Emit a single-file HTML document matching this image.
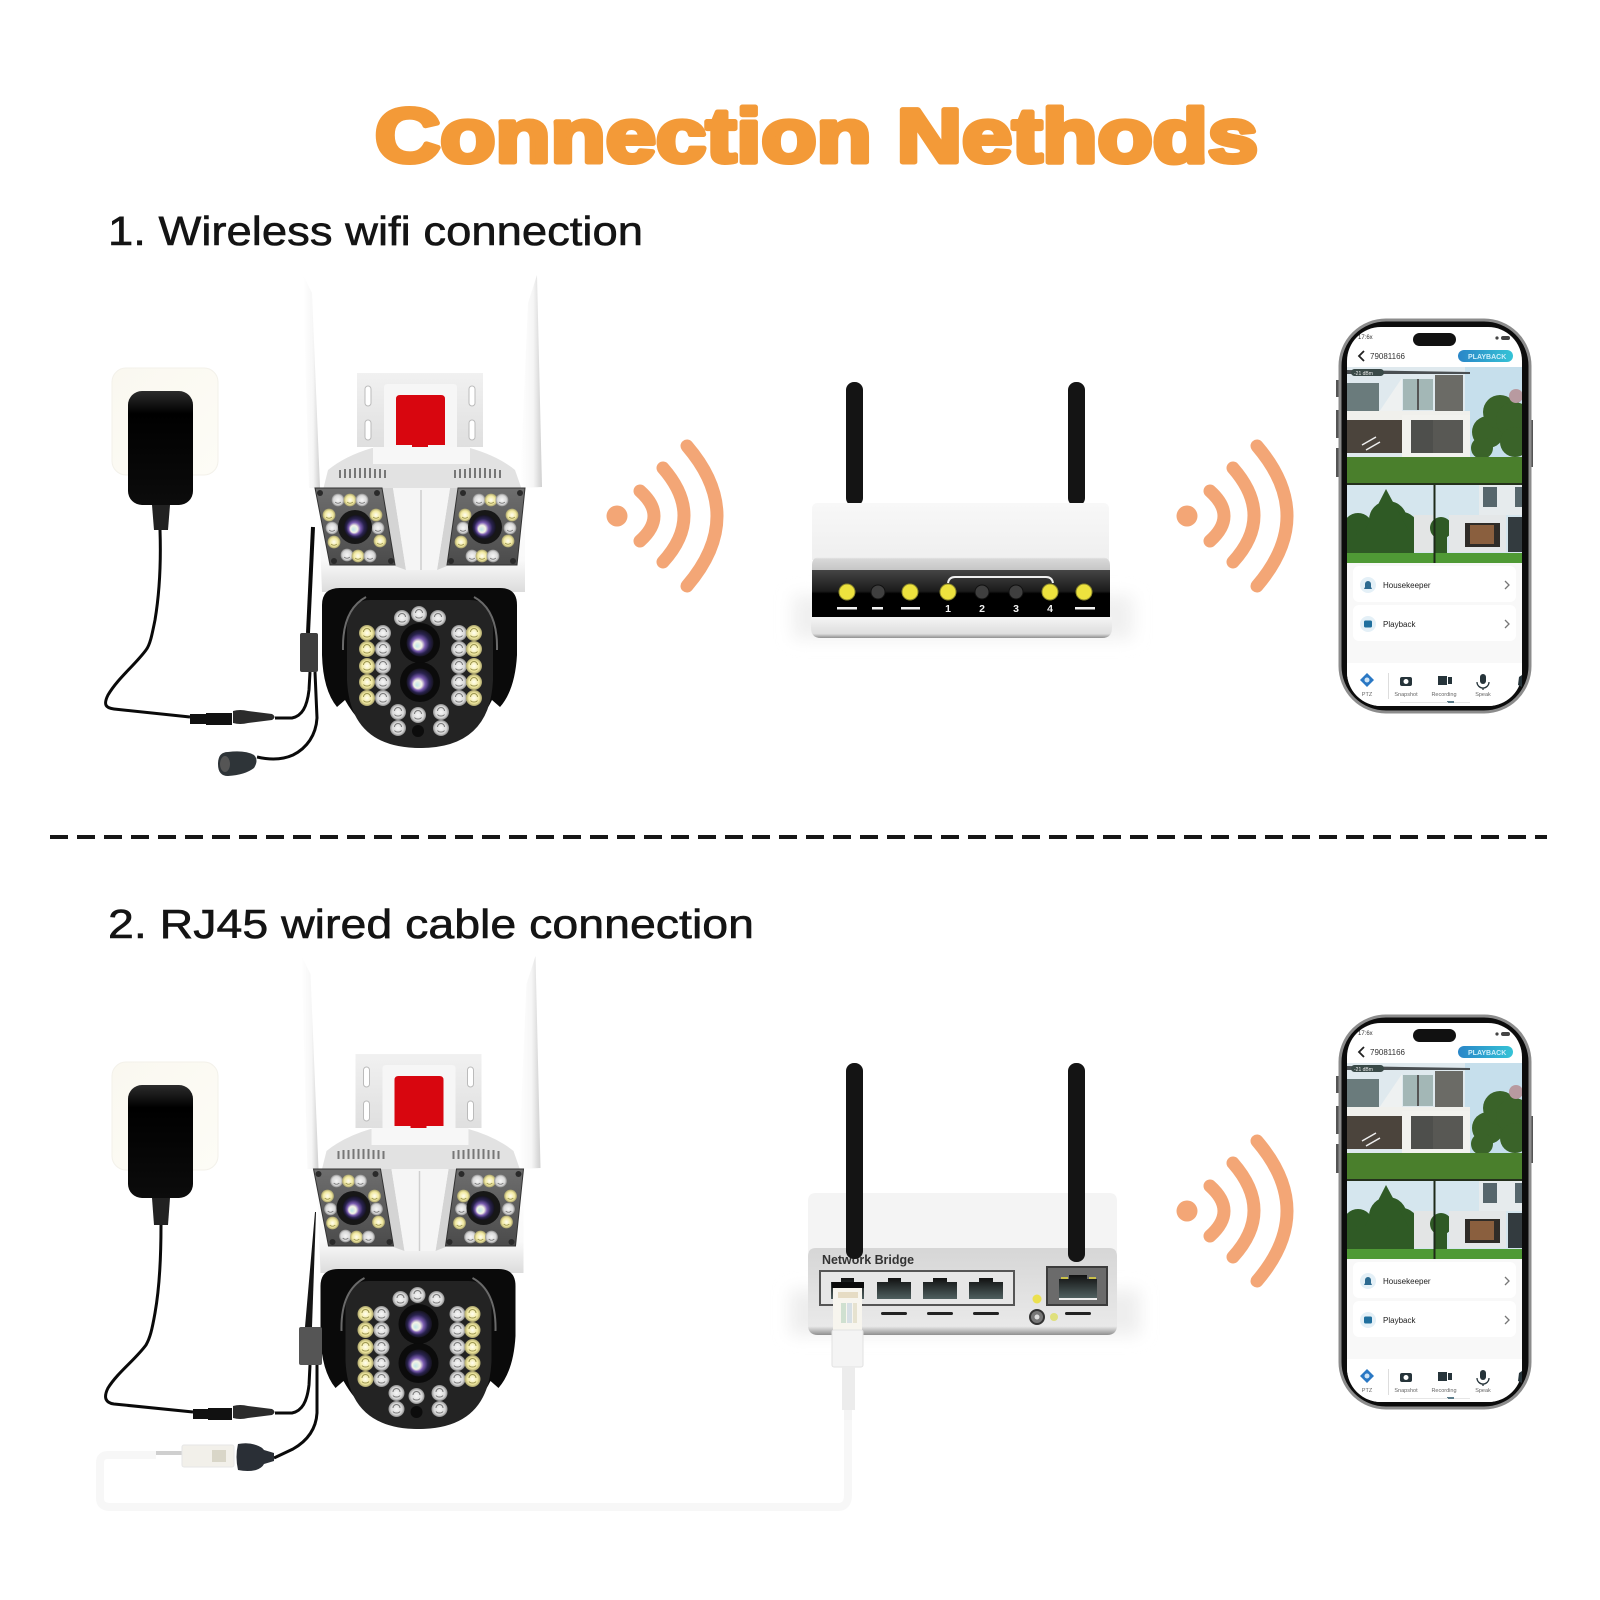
<!DOCTYPE html>
<html lang="en"><head><meta charset="utf-8"><title>Connection Nethods</title>
<style>html,body{margin:0;padding:0;background:#fff}svg{display:block}text{font-family:"Liberation Sans",sans-serif}</style></head>
<body>
<svg xmlns="http://www.w3.org/2000/svg" width="1600" height="1600" viewBox="0 0 1600 1600">
<defs>
<radialGradient id="lw"><stop offset="0" stop-color="#f6f6f6"/><stop offset=".7" stop-color="#d8d8d8"/><stop offset="1" stop-color="#8d8d8d"/></radialGradient>
<radialGradient id="ly"><stop offset="0" stop-color="#fffdf0"/><stop offset=".65" stop-color="#f1e9a0"/><stop offset="1" stop-color="#a8a16a"/></radialGradient>
<radialGradient id="lens" cx=".5" cy=".5" fx=".38" fy=".62"><stop offset="0" stop-color="#bfe6ea"/><stop offset=".3" stop-color="#f4f4e6"/><stop offset=".5" stop-color="#7a5cb0"/><stop offset=".75" stop-color="#2a2350"/><stop offset="1" stop-color="#15131f"/></radialGradient>
<linearGradient id="rb" x1="0" y1="0" x2="0" y2="1"><stop offset="0" stop-color="#f8f8f8"/><stop offset="1" stop-color="#efefef"/></linearGradient>
<linearGradient id="rg" x1="0" y1="0" x2="0" y2="1"><stop offset="0" stop-color="#f4f4f4"/><stop offset=".15" stop-color="#d8d8d8"/><stop offset="1" stop-color="#c6c6c6"/></linearGradient>
<linearGradient id="rk" x1="0" y1="0" x2="0" y2="1"><stop offset="0" stop-color="#454545"/><stop offset=".45" stop-color="#1b1b1b"/><stop offset=".5" stop-color="#000"/><stop offset="1" stop-color="#000"/></linearGradient>
<linearGradient id="rf" x1="0" y1="0" x2="0" y2="1"><stop offset="0" stop-color="#f5f5f5"/><stop offset=".8" stop-color="#dedede"/><stop offset="1" stop-color="#8f8f8f"/></linearGradient>
<linearGradient id="port" x1="0" y1="0" x2="0" y2="1"><stop offset="0" stop-color="#111"/><stop offset="1" stop-color="#506060"/></linearGradient>
<linearGradient id="front" x1="0" y1="0" x2="0" y2="1"><stop offset="0" stop-color="#d6d6d6"/><stop offset=".9" stop-color="#e9e9e9"/><stop offset="1" stop-color="#8f8f8f"/></linearGradient>
<linearGradient id="pill" x1="0" y1="0" x2="1" y2="0"><stop offset="0" stop-color="#2a86c8"/><stop offset="1" stop-color="#35c3d6"/></linearGradient>
<linearGradient id="adp" x1="0" y1="0" x2="0" y2="1"><stop offset="0" stop-color="#2c2c2c"/><stop offset=".2" stop-color="#000"/><stop offset="1" stop-color="#0c0c0c"/></linearGradient>
<linearGradient id="plate" x1="0" y1="0" x2="1" y2="1"><stop offset="0" stop-color="#faf8f0"/><stop offset="1" stop-color="#fdfcf6"/></linearGradient>
<linearGradient id="pan" x1="0" y1="0" x2="0" y2="1"><stop offset="0" stop-color="#6e6e6e"/><stop offset="1" stop-color="#4b4b4b"/></linearGradient>
<linearGradient id="ant" x1="0" y1="0" x2="1" y2="0"><stop offset="0" stop-color="#fff"/><stop offset=".6" stop-color="#f6f6f6"/><stop offset="1" stop-color="#cfcfcf"/></linearGradient>
<linearGradient id="body" x1="0" y1="0" x2="0" y2="1"><stop offset="0" stop-color="#fff"/><stop offset=".7" stop-color="#f9f9f9"/><stop offset="1" stop-color="#dcdcdc"/></linearGradient>
<linearGradient id="brk" x1="0" y1="0" x2="0" y2="1"><stop offset="0" stop-color="#f1f1f1"/><stop offset="1" stop-color="#dfdfdf"/></linearGradient>
<filter id="b6" x="-20%" y="-50%" width="140%" height="200%"><feGaussianBlur stdDeviation="8"/></filter>
<filter id="b1"><feGaussianBlur stdDeviation=".6"/></filter>
<clipPath id="scr"><rect x="1347" y="327" width="175" height="379" rx="34"/></clipPath>

<g id="lw1"><circle r="8" fill="url(#lw)"/><path d="M-3.500,-1 a2,2 0 0 1 7,0 M-3.500,2.500 a4,3 0 0 0 7,0" fill="none" stroke="#777" stroke-width="1"/></g>
<g id="ly1"><circle r="8" fill="url(#ly)"/><path d="M-3.500,-1 a2,2 0 0 1 7,0 M-3.500,2.500 a4,3 0 0 0 7,0" fill="none" stroke="#9a9450" stroke-width="1"/></g>
<g id="ls1" transform="scale(.8)"><circle r="8" fill="url(#lw)"/><path d="M-3.500,2.500 a4,3 0 0 0 7,0" fill="none" stroke="#777"/></g>
<g id="ly2" transform="scale(.8)"><circle r="8" fill="url(#ly)"/><path d="M-3.500,2.500 a4,3 0 0 0 7,0" fill="none" stroke="#9a9450"/></g>

<g id="wifi" fill="none" stroke="#f3a676" stroke-width="13" stroke-linecap="round">
<circle cx="617" cy="516" r="10.500" fill="#f3a676" stroke="none"/>
<path d="M640,491 Q668,516 640,541"/>
<path d="M663,468 Q705,516 663,562"/>
<path d="M687,446 Q747,516 687,586"/>
</g>

<g id="cam">
<path d="M303,275 L312,293 L320,488 L309,488 Z" fill="url(#ant)"/>
<path d="M537,275 L542,487 L520,488 L528,303 Z" fill="url(#ant)"/>
<path d="M357,373 H483 V447 H357 Z" fill="url(#brk)"/>
<path d="M384,387 Q384,384 388,384 H453 Q457,384 457,387 V447 H384 Z" fill="#f6f6f6"/>
<rect x="365" y="386" width="6" height="20" rx="3" fill="#fff" stroke="#bbb"/><rect x="365" y="420" width="6" height="20" rx="3" fill="#fff" stroke="#bbb"/>
<rect x="469" y="386" width="6" height="20" rx="3" fill="#fff" stroke="#bbb"/><rect x="469" y="420" width="6" height="20" rx="3" fill="#fff" stroke="#bbb"/>
<path d="M396,399 Q396,395 400,395 H441 Q445,395 445,399 V445 H428 V452 H412 V445 H396 Z" fill="#d8060f"/>
<path d="M323,490 L328,470 Q345,456 372,448 H470 Q498,456 515,470 L522,490 Z" fill="#e2e2e2"/>
<rect x="373" y="447" width="97" height="17" fill="#f7f7f7"/>
<path d="M340,478 v-8 M345,478 v-9 M350,478 v-9 M355,478 v-10 M360,478 v-10 M365,478 v-10 M370,478 v-10 M375,478 v-9 M380,478 v-9 M385,478 v-8 M455,478 v-8 M460,478 v-9 M465,478 v-9 M470,478 v-10 M475,478 v-10 M480,478 v-10 M485,478 v-10 M490,478 v-9 M495,478 v-9 M500,478 v-8" stroke="#777" stroke-width="2"/>
<path d="M318,488 H525 V592 H322 Z" fill="url(#body)"/>
<polygon points="382,488 393,488 406,570 395,566" fill="#d4d4d4"/>
<polygon points="458,488 450,488 437,570 447,566" fill="#d4d4d4"/>
<polygon points="393,488 450,488 437,570 406,570" fill="#f5f5f5"/>
<path d="M421,490 V570" stroke="#cfcfcf" stroke-width="1.500"/>
<polygon points="315,488 382,488 395,565 330,565" fill="url(#pan)" stroke="#333"/>
<polygon points="458,488 525,488 517,565 447,565" fill="url(#pan)" stroke="#333"/>
<g fill="#2a2a2a"><circle cx="320" cy="493" r="3"/><circle cx="377" cy="493" r="3"/><circle cx="334" cy="561" r="3"/><circle cx="391" cy="561" r="3"/><circle cx="463" cy="493" r="3"/><circle cx="520" cy="493" r="3"/><circle cx="451" cy="561" r="3"/><circle cx="513" cy="561" r="3"/></g>
<use href="#ls1" x="338" y="500"/><use href="#ly2" x="350" y="500"/><use href="#ls1" x="362" y="500"/><use href="#ly2" x="329" y="515"/><use href="#ls1" x="332" y="528"/><use href="#ly2" x="334" y="542"/><use href="#ls1" x="347" y="555"/><use href="#ly2" x="358" y="556"/><use href="#ls1" x="370" y="556"/><use href="#ly2" x="376" y="515"/><use href="#ls1" x="378" y="528"/><use href="#ly2" x="380" y="541"/>
<use href="#ls1" x="479" y="500"/><use href="#ly2" x="491" y="500"/><use href="#ls1" x="502" y="500"/><use href="#ly2" x="465" y="515"/><use href="#ls1" x="463" y="528"/><use href="#ly2" x="461" y="542"/><use href="#ls1" x="472" y="556"/><use href="#ly2" x="482" y="556"/><use href="#ls1" x="493" y="556"/><use href="#ly2" x="512" y="515"/><use href="#ls1" x="510" y="528"/><use href="#ly2" x="508" y="541"/>
<circle cx="355" cy="527" r="17" fill="#171717"/><circle cx="356" cy="527" r="12" fill="url(#lens)"/>
<circle cx="485" cy="527" r="17" fill="#171717"/><circle cx="484" cy="527" r="12" fill="url(#lens)"/>
<path d="M322,605 Q322,588 340,588 H500 Q517,588 517,605 V655 Q515,690 500,707 L492,700 Q470,745 420,748 Q370,745 345,700 L337,707 Q323,690 322,655 Z" fill="#0a0a0a"/>
<path d="M347,625 Q350,600 370,600 H470 Q490,600 493,625 V680 Q490,748 420,748 Q350,748 347,680 Z" fill="#232323"/>
<path d="M343,650 Q342,610 366,597 M497,650 Q498,610 474,597" fill="none" stroke="#6a6a6a" stroke-width="2"/>
<use href="#lw1" x="402" y="618"/><use href="#lw1" x="419" y="614"/><use href="#lw1" x="438" y="618"/>
<use href="#ly1" x="367" y="633"/><use href="#ly1" x="367" y="649"/><use href="#ly1" x="367" y="666"/><use href="#ly1" x="367" y="682"/><use href="#ly1" x="367" y="698"/>
<use href="#lw1" x="383" y="633"/><use href="#lw1" x="383" y="649"/><use href="#lw1" x="383" y="666"/><use href="#lw1" x="383" y="682"/><use href="#lw1" x="383" y="698"/>
<use href="#lw1" x="459" y="633"/><use href="#lw1" x="459" y="649"/><use href="#lw1" x="459" y="666"/><use href="#lw1" x="459" y="682"/><use href="#lw1" x="459" y="698"/>
<use href="#ly1" x="474" y="633"/><use href="#ly1" x="474" y="649"/><use href="#ly1" x="474" y="666"/><use href="#ly1" x="474" y="682"/><use href="#ly1" x="474" y="698"/>
<use href="#lw1" x="398" y="712"/><use href="#lw1" x="418" y="715"/><use href="#lw1" x="441" y="712"/><use href="#lw1" x="398" y="728"/><use href="#lw1" x="441" y="728"/>
<circle cx="418" cy="731" r="6" fill="#0c0c0c"/>
<ellipse cx="420" cy="643" rx="20" ry="20" fill="#0b0b0b"/><circle cx="420" cy="643" r="13.500" fill="url(#lens)"/>
<ellipse cx="420" cy="682" rx="20" ry="20" fill="#0b0b0b"/><circle cx="420" cy="682" r="13.500" fill="url(#lens)"/>
</g>

<g id="phone">
<rect x="1336" y="380" width="4" height="17" fill="#555"/><rect x="1336" y="410" width="4" height="28" fill="#555"/><rect x="1336" y="448" width="4" height="29" fill="#555"/><rect x="1530" y="420" width="3" height="47" fill="#555"/>
<rect x="1340" y="320" width="190" height="392" rx="46" fill="#0c0c0c" stroke="#8c8c8c" stroke-width="3"/>
<rect x="1347" y="327" width="175" height="379" rx="34" fill="#fff"/>
<g clip-path="url(#scr)">
<rect x="1347" y="367" width="175" height="116" fill="#dfe9ee"/>
<rect x="1465" y="367" width="57" height="90" fill="#c6dfec"/>
<path d="M1347,370 L1470,372 L1470,374 H1347Z" fill="#4a4f52"/>
<polygon points="1379,412 1402,378 1402,412" fill="#eef1f1"/>
<rect x="1347" y="383" width="32" height="29" fill="#6a7b7c"/>
<rect x="1403" y="379" width="30" height="31" fill="#a3b7b6"/><rect x="1417" y="379" width="2" height="31" fill="#555"/>
<rect x="1435" y="375" width="28" height="36" fill="#6b6b66"/>
<rect x="1347" y="411" width="123" height="9" fill="#f0f0ec"/>
<rect x="1347" y="420" width="55" height="33" fill="#4b443c"/>
<rect x="1402" y="415" width="68" height="42" fill="#f2f2ee"/>
<rect x="1411" y="420" width="22" height="33" fill="#4e4f4c"/><rect x="1433" y="420" width="30" height="33" fill="#585854"/>
<path d="M1362,445 l14,-8 M1366,450 l14,-8" stroke="#eee" stroke-width="1.500"/>
<g fill="#3a6329"><circle cx="1488" cy="432" r="16"/><circle cx="1500" cy="412" r="17"/><circle cx="1514" cy="420" r="18"/><circle cx="1515" cy="442" r="15"/><circle cx="1482" cy="448" r="11"/></g>
<circle cx="1516" cy="396" r="7" fill="#b89aa0"/>
<rect x="1347" y="457" width="175" height="26" fill="#4a7f2c"/>
<rect x="1347" y="483" width="175" height="2" fill="#24301c"/>
<rect x="1347" y="485" width="175" height="78" fill="#d5e6ee"/>
<g fill="#2f5a25"><circle cx="1388" cy="520" r="19"/><circle cx="1402" cy="528" r="16"/><circle cx="1358" cy="528" r="15"/><circle cx="1372" cy="535" r="16"/><path d="M1386,489 L1408,530 H1365Z"/><rect x="1347" y="535" width="67" height="18"/></g>
<rect x="1414" y="515" width="19" height="37" fill="#e3e5e5"/>
<g fill="#2f5a25"><circle cx="1441" cy="528" r="11"/><rect x="1435" y="528" width="12" height="25"/></g>
<rect x="1449" y="515" width="57" height="37" fill="#e4e7e8"/>
<rect x="1465" y="523" width="35" height="24" fill="#2f2c28"/><rect x="1470" y="525" width="24" height="19" fill="#8a5f3e"/>
<rect x="1479" y="485" width="43" height="30" fill="#e6ebed"/><rect x="1483" y="487" width="14" height="20" fill="#56666c"/><rect x="1515" y="487" width="7" height="20" fill="#56666c"/>
<rect x="1508" y="517" width="14" height="35" fill="#333b3f"/>
<rect x="1347" y="553" width="175" height="10" fill="#4f9a35"/>
<rect x="1433.500" y="485" width="2" height="78" fill="#1e2a18"/>
<rect x="1347" y="563" width="175" height="100" fill="#f8f8f8"/>
<rect x="1353" y="566" width="163" height="36" rx="6" fill="#fff"/>
<rect x="1353" y="605" width="163" height="36" rx="6" fill="#fff"/>
<rect x="1347" y="663" width="175" height="43" fill="#fff"/>
</g>
<path d="M1364,351 L1359,356 L1364,361" fill="none" stroke="#222" stroke-width="1.800"/>
<rect x="1413" y="333" width="43" height="13" rx="6.500" fill="#111"/>
<circle cx="1497" cy="338" r="1.600" fill="#444"/><rect x="1501" y="336" width="9" height="4" rx="2" fill="#444"/>
<rect x="1458" y="350" width="55" height="12" rx="6" fill="url(#pill)"/>
<rect x="1351" y="369" width="33" height="7" rx="3.500" fill="#3a4a48"/>
<circle cx="1368" cy="585" r="8" fill="#e4f0f7"/><path d="M1364,589 h8 l-1,-2 v-3 a3,3 0 0 0 -6,0 v3z" fill="#2c6a90"/>
<circle cx="1368" cy="624" r="8" fill="#e4f0f7"/><rect x="1364" y="620.500" width="8" height="7" rx="1.500" fill="#1f6f9e"/>
<path d="M1505,581 L1509,585 L1505,589 M1505,620 L1509,624 L1505,628" fill="none" stroke="#777" stroke-width="1.300"/>
<path d="M1367,673 L1374,680 L1367,687 L1360,680 Z" fill="#2a78c4"/><circle cx="1367" cy="680" r="2.500" fill="#cfe4f5"/>
<rect x="1388" y="673" width="1" height="26" fill="#ddd"/>
<rect x="1400" y="677" width="12" height="9" rx="2" fill="#26343a"/><circle cx="1406" cy="681.500" r="2.500" fill="#fff"/>
<rect x="1438" y="676" width="9" height="9" fill="#26343a"/><rect x="1448" y="677" width="4" height="7" fill="#26343a"/>
<rect x="1480" y="674" width="6" height="10" rx="3" fill="#26343a"/><path d="M1477,682 a6,6 0 0 0 12,0 M1483,688 v2" fill="none" stroke="#26343a" stroke-width="1.300"/>
<path d="M1519,677 l3,-2 v12 l-4,-2z" fill="#26343a"/>
<rect x="1447" y="701" width="7" height="2" fill="#5c7c8a"/><rect x="1400" y="702" width="48" height="1" fill="#e6e6e6"/><rect x="1454" y="702" width="16" height="1" fill="#e6e6e6"/>
</g>
</defs>

<rect width="1600" height="1600" fill="#fff"/>

<text x="375" y="162" font-size="76" font-weight="700" fill="#f39a38" stroke="#f39a38" stroke-width="5" stroke-linejoin="round" textLength="883" lengthAdjust="spacingAndGlyphs">Connection Nethods</text>
<text x="108" y="245" font-size="41" fill="#141414" stroke="#141414" stroke-width=".6" textLength="535" lengthAdjust="spacingAndGlyphs">1. Wireless wifi connection</text>
<text x="108" y="938" font-size="41" fill="#141414" stroke="#141414" stroke-width=".6" textLength="646" lengthAdjust="spacingAndGlyphs">2. RJ45 wired cable connection</text>
<line x1="50" y1="837" x2="1547" y2="837" stroke="#161616" stroke-width="4" stroke-dasharray="18 9"/>

<!-- row 1 power -->
<rect x="112" y="368" width="106" height="107" rx="14" fill="url(#plate)" stroke="#f3f1ea"/>
<rect x="128" y="391" width="65" height="114" rx="14" fill="url(#adp)"/>
<path d="M152,505 H170 L168,530 H154 Z" fill="#222"/>
<use href="#cam"/>
<g fill="none" stroke="#0a0a0a" stroke-width="3" stroke-linejoin="round">
<path d="M160,530 C161,560 160,590 155,620 C152,635 150,645 146,650 C135,665 118,678 108,695 C103,705 106,708 114,709 L190,717"/>
<path d="M275,718 H292 C302,716 307,707 309,690 L310,672"/>
<path d="M313,527 L308,633" stroke-width="4"/>
<path d="M315,672 L317,718 C316,735 307,748 293,755 C282,760 270,760 257,757"/>
</g>
<path d="M190,714 H206 V713 H232 V725 H206 V724 H190Z" fill="#111"/><path d="M233,711 Q240,709 248,711 L272,714 Q277,717 272,720 L248,723 Q240,725 233,723 Z" fill="#2b2b2b"/>
<rect x="300" y="633" width="18" height="39" rx="2" fill="#3e3e3e"/>
<path d="M228,752 Q245,750 254,755 Q259,760 254,768 Q245,775 228,776 Q218,776 218,764 Q218,752 228,752Z" fill="#2e3438"/><ellipse cx="225" cy="764" rx="5" ry="8" fill="#555"/>

<use href="#wifi"/>
<use href="#wifi" transform="translate(570,0)"/>

<!-- router 1 -->
<rect x="793" y="595" width="340" height="44" fill="#f0f0f0" filter="url(#b6)"/>
<rect x="846" y="382" width="17" height="124" rx="8" fill="#141414"/>
<rect x="1068" y="382" width="17" height="124" rx="8" fill="#141414"/>
<path d="M812,509 Q812,503 818,503 H1103 Q1109,503 1109,509 V560 H812 Z" fill="url(#rb)"/>
<path d="M812,570 V565 Q812,557 820,557 H1100 Q1110,557 1110,565 V570 Z" fill="url(#rg)"/>
<rect x="812" y="570" width="298" height="47" fill="url(#rk)"/>
<path d="M811,617 H1112 V628 Q1112,638 1102,638 H821 Q811,638 811,628 Z" fill="url(#rf)"/>
<path d="M948,583 Q949,577 955,577 H1046 Q1052,577 1053,583" fill="none" stroke="#f0f0f0" stroke-width="2"/>
<g fill="#ede23e" stroke="#8e8a2b"><circle cx="847" cy="592" r="8"/><circle cx="910" cy="592" r="8"/><circle cx="948" cy="592" r="8"/><circle cx="1050" cy="592" r="8"/><circle cx="1084" cy="592" r="8"/></g>
<g fill="#3f3f3f" stroke="#111"><circle cx="878" cy="592" r="7"/><circle cx="982" cy="592" r="7"/><circle cx="1016" cy="592" r="7"/></g>
<g fill="#f2f2f2"><rect x="837" y="607" width="20" height="2.500"/><rect x="872" y="607" width="11" height="2.500"/><rect x="901" y="607" width="19" height="2.500"/><rect x="1075" y="607" width="20" height="2.500"/></g>
<g fill="#f2f2f2" font-size="10.500" font-weight="700" text-anchor="middle"><text x="948" y="612">1</text><text x="982" y="612">2</text><text x="1016" y="612">3</text><text x="1050" y="612">4</text></g>

<!-- phone 1 -->
<use href="#phone"/>
<g font-size="6" fill="#333"><text x="1358" y="339">17:6x</text></g>
<text x="1370" y="359" font-size="8" fill="#333">79081166</text>
<text x="1468" y="359" font-size="7" fill="#cfeefa" font-weight="700">PLAYBACK</text>
<text x="1354" y="375" font-size="5" fill="#eee">-21 dBm</text>
<text x="1383" y="588" font-size="8" fill="#222">Housekeeper</text>
<text x="1383" y="627" font-size="8" fill="#222">Playback</text>
<g font-size="5.500" fill="#666" text-anchor="middle"><text x="1367" y="696">PTZ</text><text x="1406" y="696">Snapshot</text><text x="1444" y="696">Recording</text><text x="1483" y="696">Speak</text></g>

<!-- row 2 power -->
<rect x="112" y="1062" width="106" height="108" rx="14" fill="url(#plate)" stroke="#f3f1ea"/>
<rect x="128" y="1085" width="65" height="113" rx="14" fill="url(#adp)"/>
<path d="M152,1198 H170 L168,1225 H154 Z" fill="#222"/>
<use href="#cam" transform="translate(-1.500,681)"/>
<g fill="none" stroke="#0a0a0a" stroke-width="3" stroke-linejoin="round">
<path d="M161,1225 C161,1255 160,1285 155,1313 C152,1330 150,1338 146,1345 C135,1360 118,1372 108,1388 C103,1398 106,1403 114,1404 L193,1412"/>
<path d="M275,1413 H292 C302,1411 307,1402 309,1385 L310,1365"/>
<path d="M317,1365 L317,1413 C316,1430 307,1441 293,1449 L274,1458"/>
</g>
<path d="M315,1212 L316,1212 L312,1327 L305,1327 Z" fill="#151515"/>
<path d="M193,1409 H208 V1408 H232 V1420 H208 V1419 H193Z" fill="#111"/><path d="M233,1406 Q240,1404 248,1406 L272,1409 Q277,1412 272,1415 L248,1418 Q240,1420 233,1418 Z" fill="#2b2b2b"/>
<rect x="299" y="1327" width="23" height="38" rx="2" fill="#555"/>
<g fill="none" stroke="#f7f7f7" stroke-linejoin="round">
<path d="M156,1455 H108 Q100,1455 100,1463 V1498 Q100,1507 110,1507 H838 Q848,1507 848,1495 V1410" stroke-width="8"/>
</g>
<rect x="156" y="1451" width="26" height="4" fill="#cfcfcf"/>
<rect x="182" y="1445" width="52" height="22" rx="2" fill="#f2f0ea" stroke="#e6e6e6"/>
<rect x="212" y="1450" width="14" height="12" fill="#d9d6c8"/>
<path d="M238,1444 Q248,1442 256,1445 Q262,1447 264,1450 L274,1453 V1461 L264,1464 Q262,1468 256,1470 Q248,1472 238,1470 Q235,1457 238,1444 Z" fill="#2a2f36"/>

<use href="#wifi" transform="translate(570,695)"/>

<!-- router 2 -->
<rect x="790" y="1290" width="350" height="45" fill="#eeeeee" filter="url(#b6)"/>
<path d="M808,1201 Q808,1193 816,1193 H1109 Q1117,1193 1117,1201 V1252 H808 Z" fill="#f4f4f4"/>
<path d="M808,1256 Q808,1248 816,1248 H1109 Q1117,1248 1117,1256 V1325 Q1117,1335 1107,1335 H818 Q808,1335 808,1325 Z" fill="url(#front)"/>
<text x="822" y="1264" font-size="13" font-weight="700" fill="#333" textLength="92" lengthAdjust="spacingAndGlyphs">Network Bridge</text>
<rect x="820" y="1271" width="194" height="34" fill="#e6e6e6" stroke="#555" stroke-width="2"/>
<g fill="url(#port)"><path d="M831,1282 H841 V1278 H854 V1282 H864 V1299 H831Z"/><path d="M877,1282 H888 V1278 H901 V1282 H911 V1299 H877Z"/><path d="M923,1282 H933 V1278 H947 V1282 H957 V1299 H923Z"/><path d="M969,1282 H979 V1278 H993 V1282 H1003 V1299 H969Z"/></g>
<g fill="#222"><rect x="881" y="1312" width="26" height="3" rx="1.500"/><rect x="927" y="1312" width="26" height="3" rx="1.500"/><rect x="973" y="1312" width="26" height="3" rx="1.500"/><rect x="1065" y="1312" width="26" height="3" rx="1.500"/></g>
<rect x="1047" y="1267" width="60" height="38" fill="#6b6b6b" stroke="#3c3c3c" stroke-width="2"/>
<path d="M1059,1279 H1069 V1275 H1087 V1279 H1097 V1298 H1059Z" fill="url(#port)"/>
<rect x="1059" y="1298" width="38" height="2" fill="#eee"/>
<rect x="1061" y="1277" width="7" height="2" fill="#c9c04a"/><rect x="1089" y="1277" width="7" height="2" fill="#c9c04a"/>
<circle cx="1037" cy="1299" r="4.500" fill="#ebe04f"/><circle cx="1054" cy="1317" r="4" fill="#dfe07c"/>
<circle cx="1037" cy="1317" r="7" fill="#777" stroke="#333" stroke-width="2"/><circle cx="1037" cy="1317" r="2.500" fill="#ddd"/>
<rect x="846" y="1063" width="17" height="196" rx="8" fill="#141414"/>
<rect x="1068" y="1063" width="17" height="199" rx="8" fill="#141414"/>
<path d="M832,1282 H864 V1288 H832Z" fill="#0a0a0a"/>
<rect x="833" y="1288" width="29" height="42" fill="#f7f5ee"/>
<rect x="838" y="1292" width="20" height="6" fill="#e6dcc4"/><rect x="841" y="1303" width="5" height="20" fill="#cfe0d0"/><rect x="847" y="1303" width="5" height="20" fill="#d6dfe4"/><rect x="853" y="1303" width="4" height="20" fill="#e6e2cf"/>
<rect x="832" y="1330" width="31" height="37" rx="2" fill="#f4f4f4" stroke="#e2e2e2"/>
<rect x="842" y="1367" width="13" height="43" fill="#ececec"/>
<rect x="844" y="1410" width="8" height="10" fill="#f4f4f4"/>

<!-- phone 2 -->
<use href="#phone" transform="translate(0,696)"/>
<g font-size="6" fill="#333"><text x="1358" y="1035">17:6x</text></g>
<text x="1370" y="1055" font-size="8" fill="#333">79081166</text>
<text x="1468" y="1055" font-size="7" fill="#cfeefa" font-weight="700">PLAYBACK</text>
<text x="1354" y="1071" font-size="5" fill="#eee">-21 dBm</text>
<text x="1383" y="1284" font-size="8" fill="#222">Housekeeper</text>
<text x="1383" y="1323" font-size="8" fill="#222">Playback</text>
<g font-size="5.500" fill="#666" text-anchor="middle"><text x="1367" y="1392">PTZ</text><text x="1406" y="1392">Snapshot</text><text x="1444" y="1392">Recording</text><text x="1483" y="1392">Speak</text></g>
</svg>
</body></html>
